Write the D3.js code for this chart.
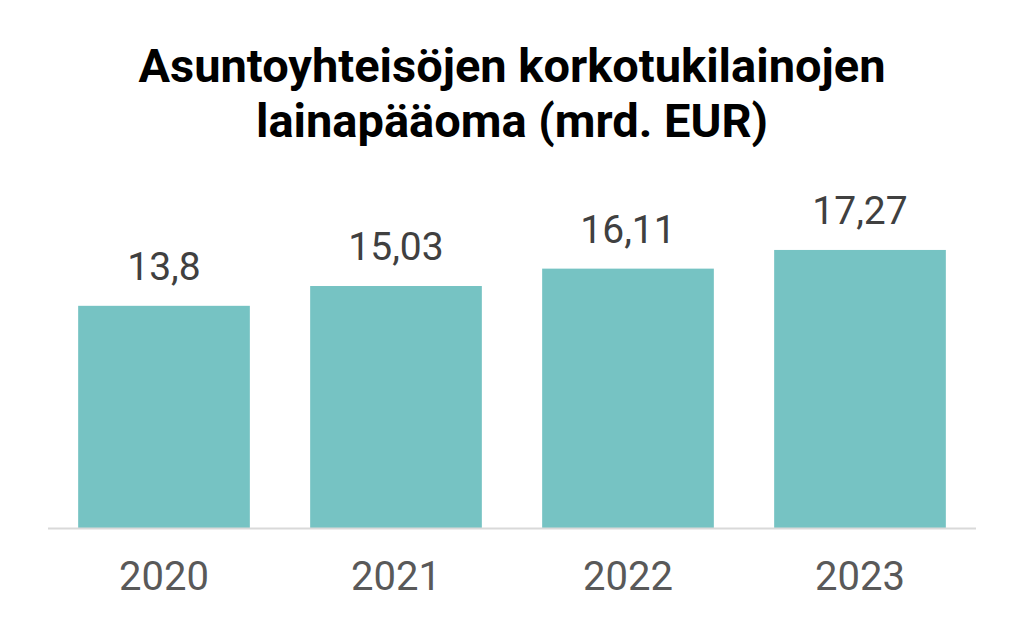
<!DOCTYPE html><html><head><meta charset="utf-8"><script src="https://cdn.jsdelivr.net/npm/d3@7"></script>
<style>body{margin:0;background:#fff}</style></head><body><svg id="c" width="1024" height="632"></svg>
<script>
const years=["2020","2021","2022","2023"];
const values=[13.8,15.03,16.11,17.27];
const labels=["13,8","15,03","16,11","17,27"];
const titleLines=["Asuntoyhteisöjen korkotukilainojen","lainapääoma (mrd. EUR)"];
const svg=d3.select("#c");
const x=d3.scaleBand().domain(years).range([48,976]).paddingInner(0.26).paddingOuter(0.13);
const y=d3.scaleLinear().domain([0,20]).range([528,206]);
svg.selectAll("text.t").data(titleLines).join("text").attr("x",512).attr("y",(d,i)=>82+i*55)
 .attr("text-anchor","middle").attr("font-family","Roboto").attr("font-weight","bold").attr("font-size",47).attr("fill","#000").text(d=>d);
svg.selectAll("rect").data(values).join("rect").attr("x",(d,i)=>x(years[i])).attr("width",x.bandwidth())
 .attr("y",d=>y(d)).attr("height",d=>528-y(d)).attr("fill","#76C3C3");
svg.append("line").attr("x1",48).attr("x2",976).attr("y1",528.5).attr("y2",528.5).attr("stroke","#d9d9d9").attr("stroke-width",2);
svg.selectAll("text.v").data(values).join("text").attr("x",(d,i)=>x(years[i])+x.bandwidth()/2).attr("y",d=>y(d)-26)
 .attr("text-anchor","middle").attr("font-family","Roboto").attr("font-size",39).attr("fill","#404040").text((d,i)=>labels[i]);
const ax=svg.append("g").attr("transform","translate(0,528)").call(d3.axisBottom(x).tickSize(0).tickPadding(34));
ax.select(".domain").remove();
ax.selectAll("text").attr("font-family","Roboto").attr("font-size",40).attr("fill","#595959");
</script></body></html>
